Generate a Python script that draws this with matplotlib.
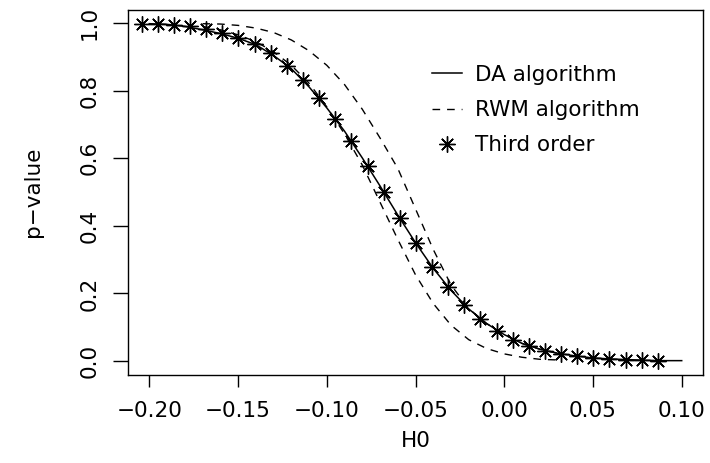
import matplotlib
matplotlib.use("Agg")
import matplotlib.pyplot as plt

plt.rcParams["font.family"] = ["DejaVu Sans"]

# DA algorithm (solid line)
da_x = [-0.20, -0.19, -0.18, -0.17, -0.16, -0.15, -0.14, -0.13, -0.12, -0.11,
        -0.10, -0.09, -0.08, -0.07, -0.06, -0.05, -0.04, -0.03, -0.02, -0.01,
        0.00, 0.01, 0.02, 0.03, 0.04, 0.05, 0.06, 0.07, 0.08, 0.09, 0.10]
da_p = [0.998, 0.996, 0.990, 0.980, 0.969, 0.955, 0.936, 0.904, 0.865, 0.811,
        0.749, 0.680, 0.601, 0.518, 0.432, 0.350, 0.274, 0.209, 0.154, 0.111,
        0.078, 0.052, 0.035, 0.023, 0.015, 0.009, 0.006, 0.004, 0.002, 0.001, 0.001]

# RWM algorithm (two dashed curves)
rwm_x = [-0.17, -0.16, -0.15, -0.14, -0.13, -0.12, -0.11, -0.10, -0.09, -0.08,
         -0.07, -0.06, -0.05, -0.04, -0.03, -0.02, -0.01, 0.00, 0.01, 0.02, 0.03]
rwm_upper = [0.998, 0.997, 0.993, 0.985, 0.972, 0.950, 0.918, 0.875, 0.818, 0.745,
             0.660, 0.570, 0.450, 0.330, 0.225, 0.155, 0.111, 0.078, 0.052, 0.035, 0.023]
rwm_lower = [0.990, 0.980, 0.965, 0.945, 0.915, 0.875, 0.822, 0.752, 0.672, 0.580,
             0.470, 0.360, 0.255, 0.170, 0.106, 0.063, 0.037, 0.021, 0.011, 0.005, 0.003]

# Third order (asterisks)
third_x = [-0.2043, -0.1952, -0.1861, -0.1770, -0.1679, -0.1588, -0.1498, -0.1407,
           -0.1316, -0.1225, -0.1134, -0.1043, -0.0952, -0.0861, -0.0770, -0.0680,
           -0.0589, -0.0498, -0.0407, -0.0316, -0.0225, -0.0134, -0.0043, 0.0048,
           0.0139, 0.0230, 0.0320, 0.0411, 0.0502, 0.0593, 0.0684, 0.0775, 0.0866]
third_p = [0.998, 0.998, 0.995, 0.990, 0.982, 0.970, 0.955, 0.937, 0.911, 0.873,
           0.831, 0.777, 0.717, 0.650, 0.576, 0.499, 0.422, 0.348, 0.279, 0.218,
           0.166, 0.124, 0.089, 0.062, 0.045, 0.030, 0.021, 0.014, 0.009, 0.006,
           0.004, 0.002, 0.001]

xticks = [-0.20, -0.15, -0.10, -0.05, 0.00, 0.05, 0.10]
xtick_labels = ["\u22120.20", "\u22120.15", "\u22120.10", "\u22120.05", "0.00", "0.05", "0.10"]
yticks = [0.0, 0.2, 0.4, 0.6, 0.8, 1.0]
ytick_labels = ["0.0", "0.2", "0.4", "0.6", "0.8", "1.0"]

fs = 15.5
dash = (5.5, 5)

fig = plt.figure(figsize=(7.1, 4.63), dpi=100)
ax = fig.add_axes([128 / 710, 1 - 374.5 / 463, 575 / 710, 365 / 463])

ax.plot(da_x, da_p, c="k", lw=1.1, label="DA algorithm")
ax.plot(rwm_x, rwm_upper, c="k", lw=1.0, dashes=dash, label="RWM algorithm")
ax.plot(rwm_x, rwm_lower, c="k", lw=1.0, dashes=dash)
ax.plot(third_x, third_p, ls="none", marker=(8, 2, 0), ms=11.5, mew=1.0,
        c="k", label="Third order")

# Axis limits (R style 4% padding)
ax.set_xlim(-0.212, 0.112)
ax.set_ylim(-0.04, 1.04)

ax.set_xticks(xticks)
ax.set_xticklabels(xtick_labels)
ax.set_yticks(yticks)
ax.set_yticklabels(ytick_labels, rotation=90, va="center")
ax.tick_params(axis="x", direction="out", length=8.7, width=1.0, pad=10.5, labelsize=fs)
ax.tick_params(axis="y", direction="out", length=10.5, width=1.0, pad=10, labelsize=fs)
for s in ax.spines.values():
    s.set_linewidth(1.0)

ax.set_xlabel("H0", fontsize=fs)
ax.set_ylabel("p\u2212value", fontsize=fs)
ax.xaxis.set_label_coords(0.5, (374.5 - 441) / 365)
ax.xaxis.label.set_va("center")
ax.yaxis.set_label_coords((33 - 128) / 575, 0.5)
ax.yaxis.label.set_va("center")

ax.legend(loc="upper left", bbox_to_anchor=((432 - 128) / 575, 1 - (65 - 9.5) / 365),
          frameon=False, fontsize=fs, handlelength=1.4, handletextpad=0.6,
          labelspacing=0.7, borderpad=0, borderaxespad=0, numpoints=1)

plt.savefig("out.png", dpi=100)
